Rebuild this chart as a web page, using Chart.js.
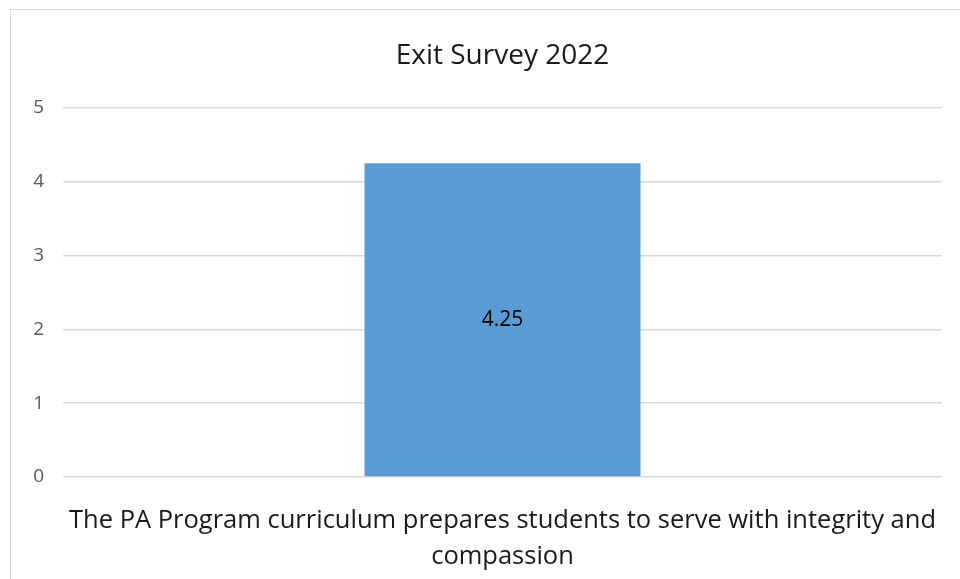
<!DOCTYPE html>
<html>
<head>
<meta charset="utf-8">
<script src="https://cdn.jsdelivr.net/npm/chart.js@4.4.1/dist/chart.umd.min.js"></script>
<style>
  html, body { margin: 0; padding: 0; background: #fff; overflow: hidden; }
  #wrap { position: relative; width: 960px; height: 579px; }
  #frame { position: absolute; left: 10px; top: 9px; width: 980px; height: 620px; border: 1.5px solid #d9d9d9; box-sizing: border-box; }
  canvas { position: absolute; left: 0; top: 0; }
</style>
</head>
<body>
<div id="wrap">
  <div id="frame"></div>
  <canvas id="chart" width="960" height="579"></canvas>
</div>
<script>
const chartTitle = 'Exit Survey 2022';
const categories = [['The PA Program curriculum prepares students to serve with integrity and', 'compassion']];
const scores = [4.25];
const yTicks = [0, 1, 2, 3, 4, 5];

const FONT = "'Open Sans', 'DejaVu Sans', sans-serif";

// Title + value label drawn centred on the plot area
const extras = {
    id: 'extras',
    afterDatasetsDraw(chart) {
        const ctx = chart.ctx;
        const area = chart.chartArea;
        ctx.save();
        ctx.textAlign = 'center';
        ctx.textBaseline = 'middle';
        ctx.fillStyle = '#1a1a1a';
        ctx.font = `28px ${FONT}`;
        ctx.fillText(chartTitle, (area.left + area.right) / 2, 56);

        const meta = chart.getDatasetMeta(0);
        meta.data.forEach((bar, i) => {
            ctx.font = `21px ${FONT}`;
            ctx.fillStyle = '#000';
            ctx.fillText(scores[i].toFixed(2), bar.x, (bar.y + bar.base) / 2);
        });
        ctx.restore();
    }
};

new Chart(document.getElementById('chart').getContext('2d'), {
    type: 'bar',
    data: {
        labels: categories,
        datasets: [{
            data: scores,
            backgroundColor: '#5b9bd5',
            borderWidth: 0,
            barPercentage: 1,
            categoryPercentage: 0.314
        }]
    },
    options: {
        responsive: false,
        animation: false,
        layout: { padding: { left: 20, right: 18, top: 108, bottom: 0 } },
        plugins: { legend: { display: false }, tooltip: { enabled: false }, title: { display: false } },
        scales: {
            y: {
                min: 0,
                max: 5,
                afterBuildTicks: axis => { axis.ticks = yTicks.map(v => ({ value: v })); },
                afterFit: axis => { axis.width = 43; },
                grid: { color: '#d9d9d9', lineWidth: 1.5, drawTicks: false },
                border: { display: false },
                ticks: { color: '#595959', padding: 19, font: { family: FONT, size: 19 } }
            },
            x: {
                afterFit: axis => {
                    axis.height = 102;
                    // the long label may overhang the plot; don't let it shrink the plot area
                    axis.paddingLeft = 0;
                    axis.paddingRight = 0;
                },
                grid: { display: false },
                border: { display: false },
                ticks: { color: '#1a1a1a', padding: 18, maxRotation: 0, autoSkip: false, font: { family: FONT, size: 25.5, lineHeight: 1.41 } }
            }
        }
    },
    plugins: [extras]
});
</script>
</body>
</html>
